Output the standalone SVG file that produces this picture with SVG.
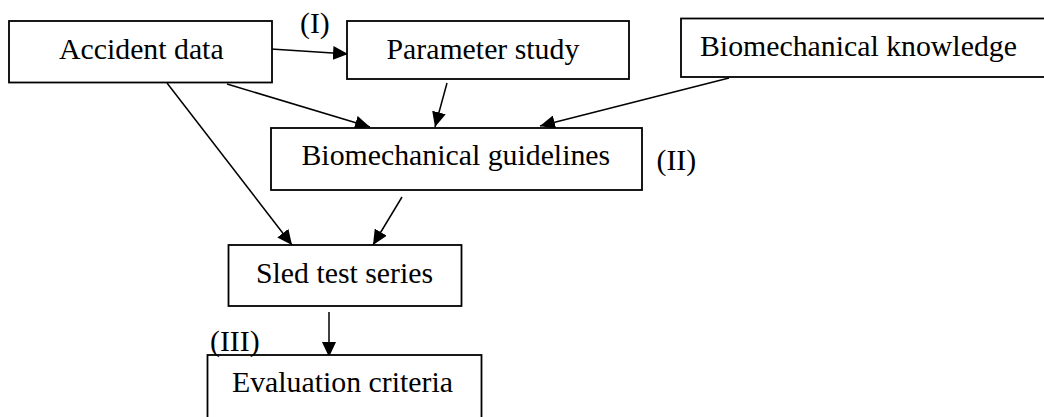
<svg xmlns="http://www.w3.org/2000/svg" width="1044" height="417" viewBox="0 0 1044 417">
<style>
.box{fill:#fff;stroke:#000;stroke-width:1.8}
.t{font-family:"Liberation Serif","Times New Roman",serif;font-size:29.8px;fill:#000}
.c{stroke:#000;stroke-width:1.5;fill:none;marker-end:url(#ah)}
</style>
<defs>
<marker id="ah" markerUnits="userSpaceOnUse" markerWidth="16" markerHeight="14" refX="15" refY="7" orient="auto">
<path d="M0,0 L15,7 L0,14 z" fill="#000"/>
</marker>
</defs>
<rect width="1044" height="417" fill="#fff"/>
<g id="connectors">
<line class="c" x1="271" y1="49" x2="348" y2="54"/>
<line class="c" x1="227" y1="84" x2="370" y2="127"/>
<line class="c" x1="447" y1="83" x2="435" y2="127"/>
<line class="c" x1="729" y1="78" x2="540" y2="126"/>
<line class="c" x1="167" y1="83" x2="292" y2="245"/>
<line class="c" x1="402" y1="197" x2="373" y2="245"/>
<line class="c" x1="329" y1="312" x2="329" y2="357"/>
</g>
<g id="accident">
<rect class="box" x="9" y="21" width="263" height="61.5"/>
<text class="t" x="59" y="59">Accident data</text>
</g>
<g id="parameter">
<rect class="box" x="347" y="21" width="282" height="58"/>
<text class="t" x="386.5" y="59">Parameter study</text>
</g>
<g id="knowledge">
<rect class="box" x="681" y="18.5" width="370" height="58.5"/>
<text class="t" x="700" y="56">Biomechanical knowledge</text>
</g>
<g id="guidelines">
<rect class="box" x="271" y="128" width="371" height="62"/>
<text class="t" x="301.5" y="165">Biomechanical guidelines</text>
</g>
<g id="sled">
<rect class="box" x="228.5" y="245" width="233" height="61"/>
<text class="t" x="256" y="283">Sled test series</text>
</g>
<g id="evaluation">
<rect class="box" x="207.5" y="355" width="274" height="80"/>
<text class="t" x="232" y="392">Evaluation criteria</text>
</g>
<g id="labels">
<text class="t" x="300" y="33">(I)</text>
<text class="t" x="656.5" y="170">(II)</text>
<text class="t" x="210" y="351">(III)</text>
</g>
</svg>
